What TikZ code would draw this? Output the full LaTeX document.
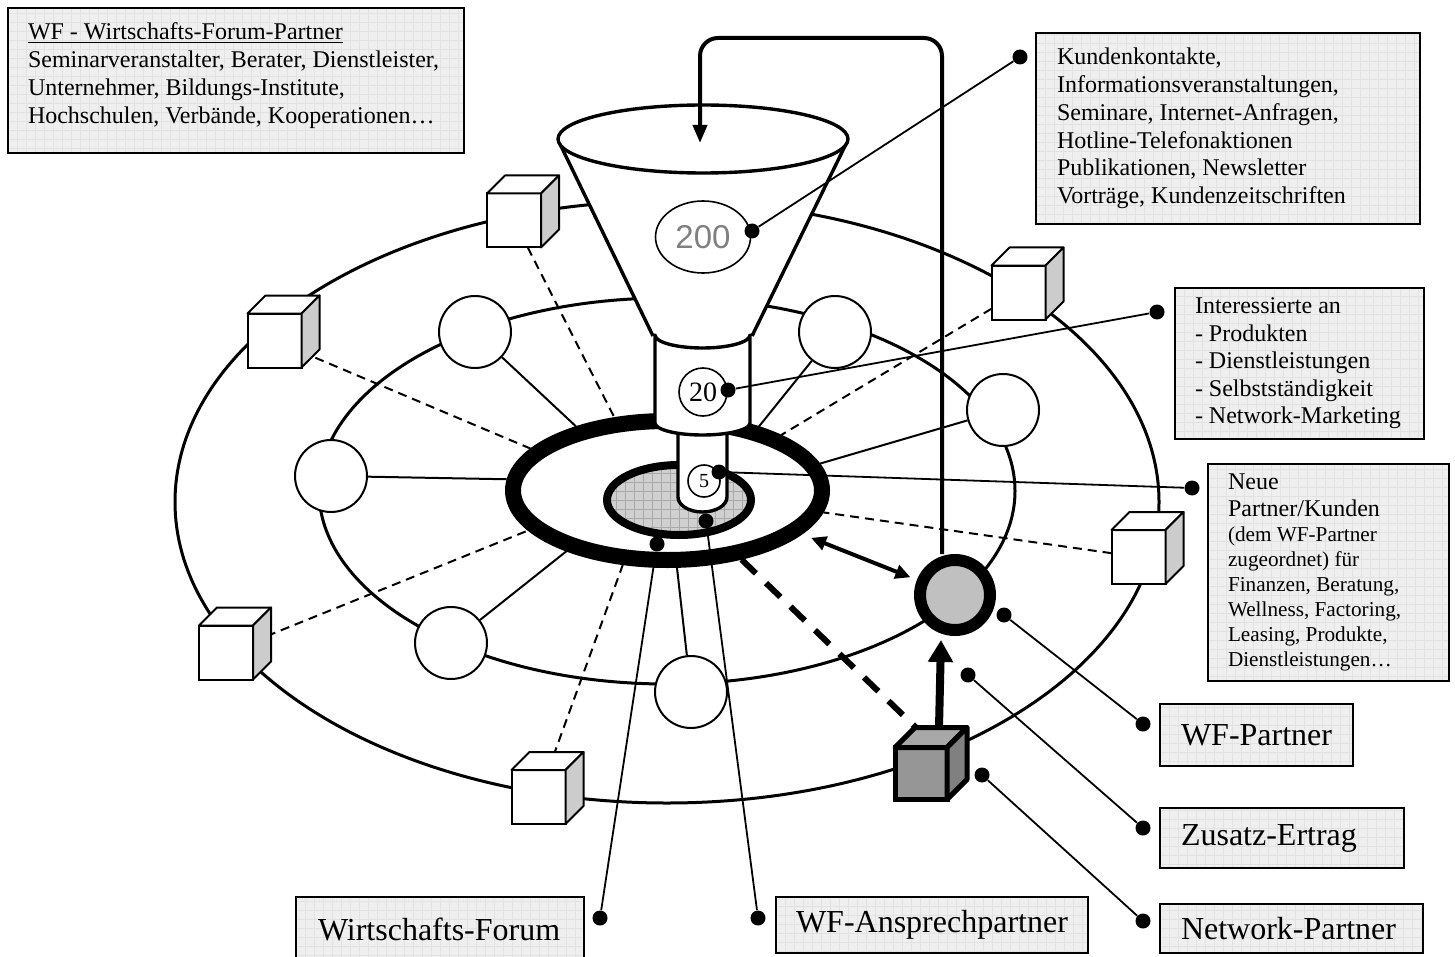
\documentclass[tikz,border=0pt]{standalone}
\usepackage{fontspec}
\setmainfont{Liberation Serif}
\newfontfamily\arialfont{Liberation Sans}
\usetikzlibrary{calc,arrows.meta,backgrounds,shapes.geometric}
\definecolor{boxfill}{HTML}{EFEFEF}
\definecolor{gridc}{HTML}{E2E2E2}
\definecolor{cubeside}{HTML}{CCCCCC}
\definecolor{wfpfill}{HTML}{C0C0C0}
\definecolor{innerfill}{HTML}{D0D0D0}
\definecolor{innergrid}{HTML}{A8A8A8}
\definecolor{darkfront}{HTML}{969696}
\definecolor{darktop}{HTML}{A8A8A8}
\definecolor{darkside}{HTML}{808080}
\definecolor{numgray}{HTML}{808080}
\newcommand\bxc[3]{\hspace*{#1}\parbox[c]{#2}{\raggedright #3}}
\newcommand\cubefaces[1]{%
  \draw[cubeline, fill=white] (#1.north west) -- ++(18,-18) -- ++(54,0) -- (#1.north east) -- cycle;
  \draw[cubeline, fill=cubeside] (#1.north east) -- ++(18,-18) -- ++(0,54) -- (#1.south east) -- cycle;}
\tikzset{
  ell/.style={line width=1.5pt},
  spoke/.style={line width=1pt},
  dashln/.style={line width=1pt, dash pattern=on 4.5pt off 3pt},
  cubeline/.style={line width=1pt, line join=round},
  cubefront/.style={rectangle, draw, line width=1pt, fill=white, minimum size=27pt, inner sep=0pt, outer sep=0pt},
  rnode/.style={circle, draw, line width=1pt, fill=white, minimum size=36pt, inner sep=0pt},
  fl/.style={line width=1.7pt, line join=round},
  dot/.style={circle, fill=black, inner sep=0pt, minimum size=7.5pt},
  lead/.style={line width=0.9pt},
  gridfill/.style={path picture={\draw[#1, line width=0.25pt, step=4.5pt] (path picture bounding box.south west) grid (path picture bounding box.north east);}},
  tbox/.style={rectangle, draw, line width=1pt, fill=boxfill, gridfill=gridc, inner sep=0pt, anchor=north west},
  bigfont/.style={font=\fontsize{16}{18}\selectfont},
}
\begin{document}
\begin{tikzpicture}[x=0.5pt, y=-0.5pt]
\useasboundingbox (0,0) rectangle (1455,957);

% central ring and inner area
\node[ellipse, draw, line width=8pt, fill=white, minimum width=154.5pt, minimum height=69.5pt, inner sep=0pt] (ring) at (667.5,490.5) {};
\node[ellipse, draw, line width=4pt, fill=innerfill, gridfill=innergrid, minimum width=72pt, minimum height=35pt, inner sep=0pt] (inner) at (679,500) {};

% funnel
\fill[white] (558,139) -- (653,336) -- (752,336) -- (848,139) -- cycle;
\draw[fl] (560,144) -- (653,336);
\draw[fl] (846,144) -- (752,336);
\draw[fl, fill=white] (703,139) ellipse [x radius=72.5pt, y radius=17pt];
\draw[fl, fill=white] (678,420) -- (678,497) arc[start angle=180, end angle=360, x radius=12.25pt, y radius=7.5pt] -- (727,420);
\draw[fl, fill=white] (655,335) -- (655,423) arc[start angle=180, end angle=360, x radius=23.75pt, y radius=6pt] -- (750,335) arc[start angle=360, end angle=180, x radius=23.75pt, y radius=6.5pt] -- cycle;

\node[ellipse, draw, line width=0.8pt, fill=white, minimum width=47.5pt, minimum height=36pt, inner sep=0pt, text=numgray, font=\arialfont\fontsize{16.5}{16.5}\selectfont] (n200) at (703,237) {200};
\node[circle, draw, line width=0.8pt, fill=white, minimum size=24pt, inner sep=0pt, font=\fontsize{14}{14}\selectfont] (n20) at (703,392) {20};
\node[circle, draw, line width=0.8pt, fill=white, minimum size=16pt, inner sep=0pt, font=\fontsize{10}{10}\selectfont] (n5) at (704,481) {5};

% circles
\node[rnode] (c1) at (475,332) {};
\node[rnode] (c2) at (331,476) {};
\node[rnode] (c3) at (451,643) {};
\node[rnode] (c4) at (691,692) {};
\node[rnode] (c5) at (835,332) {};
\node[rnode] (c6) at (1003,410) {};
\node[circle, draw, line width=6pt, fill=wfpfill, minimum size=35pt, inner sep=0pt] (wfp) at (955,595) {};

% cubes
\node[cubefront] (k1) at (514,220.5) {}; \cubefaces{k1}
\node[cubefront] (k2) at (274.5,340.5) {}; \cubefaces{k2}
\node[cubefront] (k3) at (226,652.5) {}; \cubefaces{k3}
\node[cubefront] (k4) at (538.5,797) {}; \cubefaces{k4}
\node[cubefront] (k5) at (1018.5,292.5) {}; \cubefaces{k5}
\node[cubefront] (k6) at (1138.5,557) {}; \cubefaces{k6}

\node[rectangle, draw, line width=2.5pt, fill=darkfront, minimum size=26pt, inner sep=0pt, outer sep=0pt] (nc) at (921,773.5) {};
\draw[line width=2.5pt, line join=round, fill=darktop] (nc.north west) -- ++(20,-20) -- ++(52,0) -- (nc.north east) -- cycle;
\draw[line width=2.5pt, line join=round, fill=darkside] (nc.north east) -- ++(20,-20) -- ++(0,52) -- (nc.south east) -- cycle;

% arrows
\coordinate (vtip) at (941,640);
\coordinate (lp1) at (942,38);
\coordinate (lp2) at (700,38);
\coordinate (fin) at (700,143);
\draw[line width=2pt, rounded corners=9pt, -{Triangle[length=9pt,width=7pt]}] (wfp.north -| lp1) -- (lp1) -- (lp2) -- (fin);
\draw[line width=4pt, -{Triangle[length=11pt,width=12pt]}] ($(nc.north east)+(-8,-20)$) -- (vtip);
\draw[line width=2pt, {Triangle[length=7.5pt,width=7pt]}-{Triangle[length=7.5pt,width=7pt]}, shorten <=5pt, shorten >=3.5pt] (ring.342) -- (wfp);
\draw[line width=3pt, dash pattern=on 10pt off 7pt] (ring.317) -- ($(nc.north west)+(22,-19)$);

% dots and leader lines
\node[dot] (d200) at (752,231) {};
\node[dot] (dK) at (1020,57) {};
\node[dot] (d20) at (728,390) {};
\node[dot] (dI) at (1157,312) {};
\node[dot] (d5) at (719,472) {};
\node[dot] (dN) at (1192,488) {};
\node[dot] (dIn) at (706,521) {};
\node[dot] (dA) at (758,918) {};
\node[dot] (dR) at (657,544) {};
\node[dot] (dW) at (600,918) {};
\node[dot] (dP) at (1004,615) {};
\node[dot] (dPB) at (1143,724) {};
\node[dot] (dZ) at (968,675) {};
\node[dot] (dZB) at (1143,828) {};
\node[dot] (dNW) at (982,775) {};
\node[dot] (dNWB) at (1143,921) {};
\draw[lead] (d200) -- (dK);
\draw[lead] (d20) -- (dI);
\draw[lead] (d5) -- (dN);
\draw[lead] (dIn) -- (dA);
\draw[lead] (dR) -- (dW);
\draw[lead] (dP) -- (dPB);
\draw[lead] (dZ) -- (dZB);
\draw[lead] (dNW) -- (dNWB);

% text boxes
\node[tbox, minimum width=228pt, minimum height=72.5pt] (b1) at (7,7) {\bxc{10pt}{218pt}{\fontsize{12}{14}\selectfont\underline{WF - Wirtschafts-Forum-Partner}\\Seminarveranstalter, Berater, Dienstleister,\\Unternehmer, Bildungs-Institute,\\Hochschulen, Verbände, Kooperationen…\par\vspace*{5pt}}};
\node[tbox, minimum width=192pt, minimum height=95.5pt] (bK) at (1035,32) {\bxc{10.5pt}{181.5pt}{\fontsize{12}{13.85}\selectfont Kundenkontakte,\\Informationsveranstaltungen,\\Seminare, Internet-Anfragen,\\Hotline-Telefonaktionen\\Publikationen, Newsletter\\Vorträge, Kundenzeitschriften}};
\node[tbox, minimum width=124.5pt, minimum height=75.5pt] (bI) at (1174,287) {\bxc{10pt}{114.5pt}{\fontsize{12}{13.75}\selectfont Interessierte an\\- Produkten\\- Dienstleistungen\\- Selbstständigkeit\\- Network-Marketing}};
\node[tbox, minimum width=120.5pt, minimum height=108.5pt] (bN) at (1207,463) {\bxc{10pt}{110.5pt}{\fontsize{12}{13.5}\selectfont Neue\\Partner/Kunden\par\fontsize{10.6}{12.5}\selectfont (dem WF-Partner\\zugeordnet) für\\Finanzen, Beratung,\\Wellness, Factoring,\\Leasing, Produkte,\\Dienstleistungen…}};
\node[tbox, bigfont, minimum width=96.5pt, minimum height=31pt] (bP) at (1159,703) {\bxc{10.5pt}{86pt}{WF-Partner}};
\node[tbox, bigfont, minimum width=122pt, minimum height=30pt] (bZ) at (1159,807) {\bxc{10.5pt}{111.5pt}{Zusatz-Ertrag}};
\node[tbox, bigfont, minimum width=131.5pt, minimum height=24.5pt] (bNW) at (1159,903) {\bxc{10.5pt}{121pt}{Network-Partner}};
\node[tbox, bigfont, minimum width=144pt, minimum height=32pt] (bW) at (295,896) {\bxc{11pt}{133pt}{Wirtschafts-Forum}};
\node[tbox, bigfont, minimum width=156pt, minimum height=28pt] (bA) at (775,896) {\bxc{10pt}{146pt}{WF-Ansprechpartner}};

% background: ellipses, spokes, dashed links
\begin{pgfonlayer}{background}
\fill[white] (0,0) rectangle (1455,957);
\draw[ell] (667,502) ellipse [x radius=246pt, y radius=150.5pt];
\draw[ell] (667,491) ellipse [x radius=174pt, y radius=96.5pt];
\foreach \n/\a in {c1/145,c2/176,c3/211,c4/277,c5/35,c6/10} \draw[spoke] (\n) -- (ring.\a);
\foreach \n/\a in {k1/126,k2/163,k3/196,k4/239,k5/26,k6/352} \draw[dashln] (\n) -- (ring.\a);
\end{pgfonlayer}
\end{tikzpicture}
\end{document}
